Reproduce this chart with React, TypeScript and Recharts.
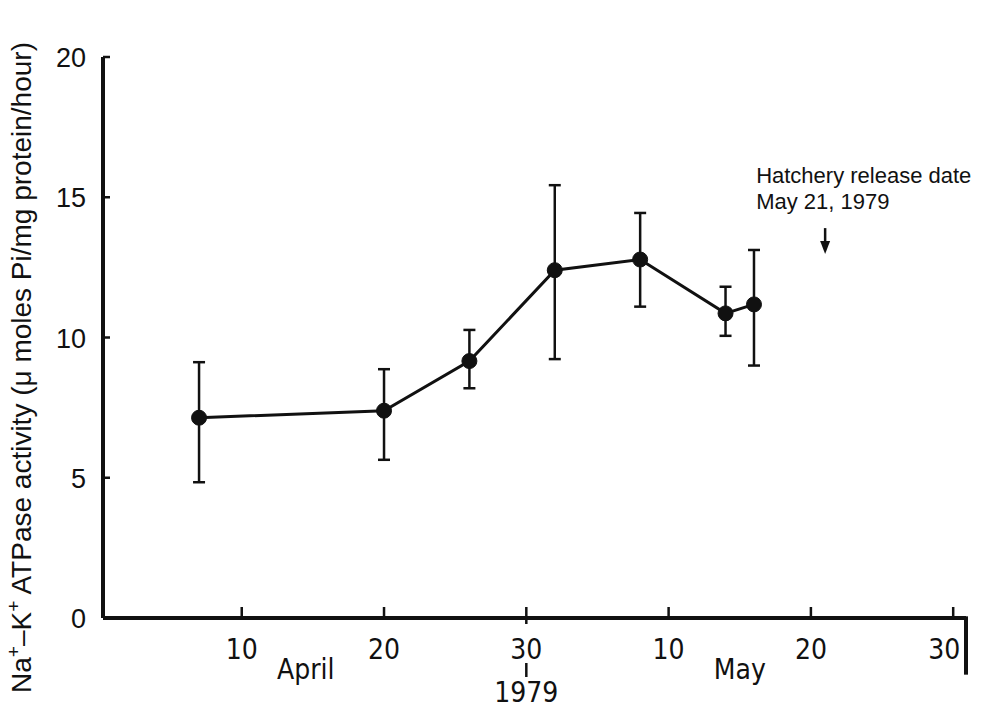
import React from "react";
import {
  LineChart,
  Line,
  XAxis,
  YAxis,
  ErrorBar,
  ReferenceLine,
  ReferenceDot,
} from "recharts";

// sampling dates, counted as days from March 31 (April 10 = 10, May 10 = 40)
const days = [7, 20, 26, 32, 38, 44, 46];
const means = [7.14, 7.39, 9.16, 12.4, 12.78, 10.86, 11.18];
const lows = [4.84, 5.64, 8.19, 9.23, 11.1, 10.06, 9.0];
const highs = [9.12, 8.87, 10.27, 15.43, 14.44, 11.81, 13.12];

const xTicks = [10, 20, 30, 40, 50, 60];
const yTicks = [0, 5, 10, 15, 20];
const monthNames = ["April", "May"];
const monthDays = [14.5, 45];
const yearLabel = "1979";
const releaseDay = 51;
const releaseLines = ["Hatchery release date", "May 21, 1979"];

const INK = "#111";
const SANS = "'Liberation Sans', Arial, sans-serif";
const NARROW = "'Liberation Sans Narrow', 'DejaVu Sans Condensed', 'Liberation Sans', sans-serif";

const data = days.map((d, i) => ({
  day: d,
  mean: means[i],
  err: [means[i] - lows[i], highs[i] - means[i]],
}));

function XTick({ x, y, payload }: any) {
  const v = payload.value;
  const label = v > 30 ? v - 30 : v;
  const yearMark = v === 30;
  // last label is nudged left so it clears the closing bar
  const lx = v === 60 ? x - 9 : x;
  return (
    <g>
      <line x1={x} x2={x} y1={y - 11} y2={yearMark ? y + 6 : y} stroke={INK} strokeWidth={2.5} />
      <text x={lx} y={y + 41} textAnchor="middle" fontSize={28} fontFamily={NARROW} fill={INK}>
        {label}
      </text>
      {yearMark && (
        <>
          <line x1={x} x2={x} y1={y + 45} y2={y + 59} stroke={INK} strokeWidth={2.5} />
          <text x={x} y={y + 84} textAnchor="middle" fontSize={28} fontFamily={NARROW} fill={INK}>
            {yearLabel}
          </text>
        </>
      )}
    </g>
  );
}

function YTick({ x, y, payload }: any) {
  return (
    <g>
      {payload.value > 0 && (
        <line x1={x} x2={x + 7} y1={y} y2={y} stroke={INK} strokeWidth={2.5} />
      )}
      <text x={x - 17} y={y + 10} textAnchor="end" fontSize={27} fontFamily={SANS} fill={INK}>
        {payload.value}
      </text>
    </g>
  );
}

function YLabel({ viewBox }: any) {
  const cx = viewBox.x + 31;
  const cy = viewBox.y + viewBox.height / 2 + 30;
  return (
    <text
      x={cx}
      y={cy}
      transform={`rotate(-90 ${cx} ${cy})`}
      textAnchor="middle"
      fontSize={28}
      fontFamily={SANS}
      fill={INK}
    >
      Na
      <tspan dy={-11} fontSize={19}>+</tspan>
      <tspan dy={11}>–K</tspan>
      <tspan dy={-11} fontSize={19}>+</tspan>
      <tspan dy={11}> ATPase activity (μ moles Pi/mg protein/hour)</tspan>
    </text>
  );
}

function MonthLabel(text: string) {
  return (p: any) => (
    <text x={p.cx} y={p.cy + 61} textAnchor="middle" fontSize={28} fontFamily={NARROW} fill={INK}>
      {text}
    </text>
  );
}

function ReleaseArrow(p: any) {
  const { cx, cy } = p;
  return (
    <g>
      <text x={cx - 69} y={cy - 45} fontSize={22} fontFamily={SANS} fill={INK}>
        {releaseLines[0]}
      </text>
      <text x={cx - 69} y={cy - 19} fontSize={22} fontFamily={SANS} fill={INK}>
        {releaseLines[1]}
      </text>
      <line x1={cx} x2={cx} y1={cy} y2={cy + 18} stroke={INK} strokeWidth={2.5} />
      <path d={`M${cx - 5},${cy + 13} L${cx + 5},${cy + 13} L${cx},${cy + 26} Z`} fill={INK} />
    </g>
  );
}

export default function App() {
  return (
    <div style={{ position: "absolute", left: 0, top: 0, background: "#fff" }}>
      <LineChart width={997} height={708} data={data} margin={{ top: 57, right: 31, bottom: 60, left: 0 }}>
        <XAxis
          dataKey="day"
          type="number"
          domain={[0.25, 60.9]}
          allowDataOverflow
          ticks={xTicks}
          interval={0}
          height={30}
          tickSize={0}
          tickMargin={0}
          tickLine={false}
          axisLine={{ stroke: INK, strokeWidth: 4 }}
          tick={<XTick />}
        />
        <YAxis
          type="number"
          domain={[0, 20]}
          ticks={yTicks}
          interval={0}
          width={103}
          tickSize={0}
          tickMargin={0}
          tickLine={false}
          axisLine={{ stroke: INK, strokeWidth: 4 }}
          tick={<YTick />}
          label={{ content: <YLabel /> }}
        />
        <ReferenceLine
          segment={[
            { x: 60.9, y: 0.06 },
            { x: 60.9, y: -2.02 },
          ]}
          ifOverflow="visible"
          stroke={INK}
          strokeWidth={4}
        />
        {monthNames.map((m, i) => (
          <ReferenceDot key={m} x={monthDays[i]} y={0} r={0} shape={MonthLabel(m)} />
        ))}
        <ReferenceDot x={releaseDay} y={13.9} r={0} shape={ReleaseArrow} />
        <Line
          dataKey="mean"
          stroke={INK}
          strokeWidth={3}
          dot={{ r: 7.5, fill: INK, stroke: INK, strokeWidth: 1 }}
          activeDot={false}
          isAnimationActive={false}
        >
          <ErrorBar dataKey="err" direction="y" width={6} stroke={INK} strokeWidth={2.5} />
        </Line>
      </LineChart>
    </div>
  );
}
